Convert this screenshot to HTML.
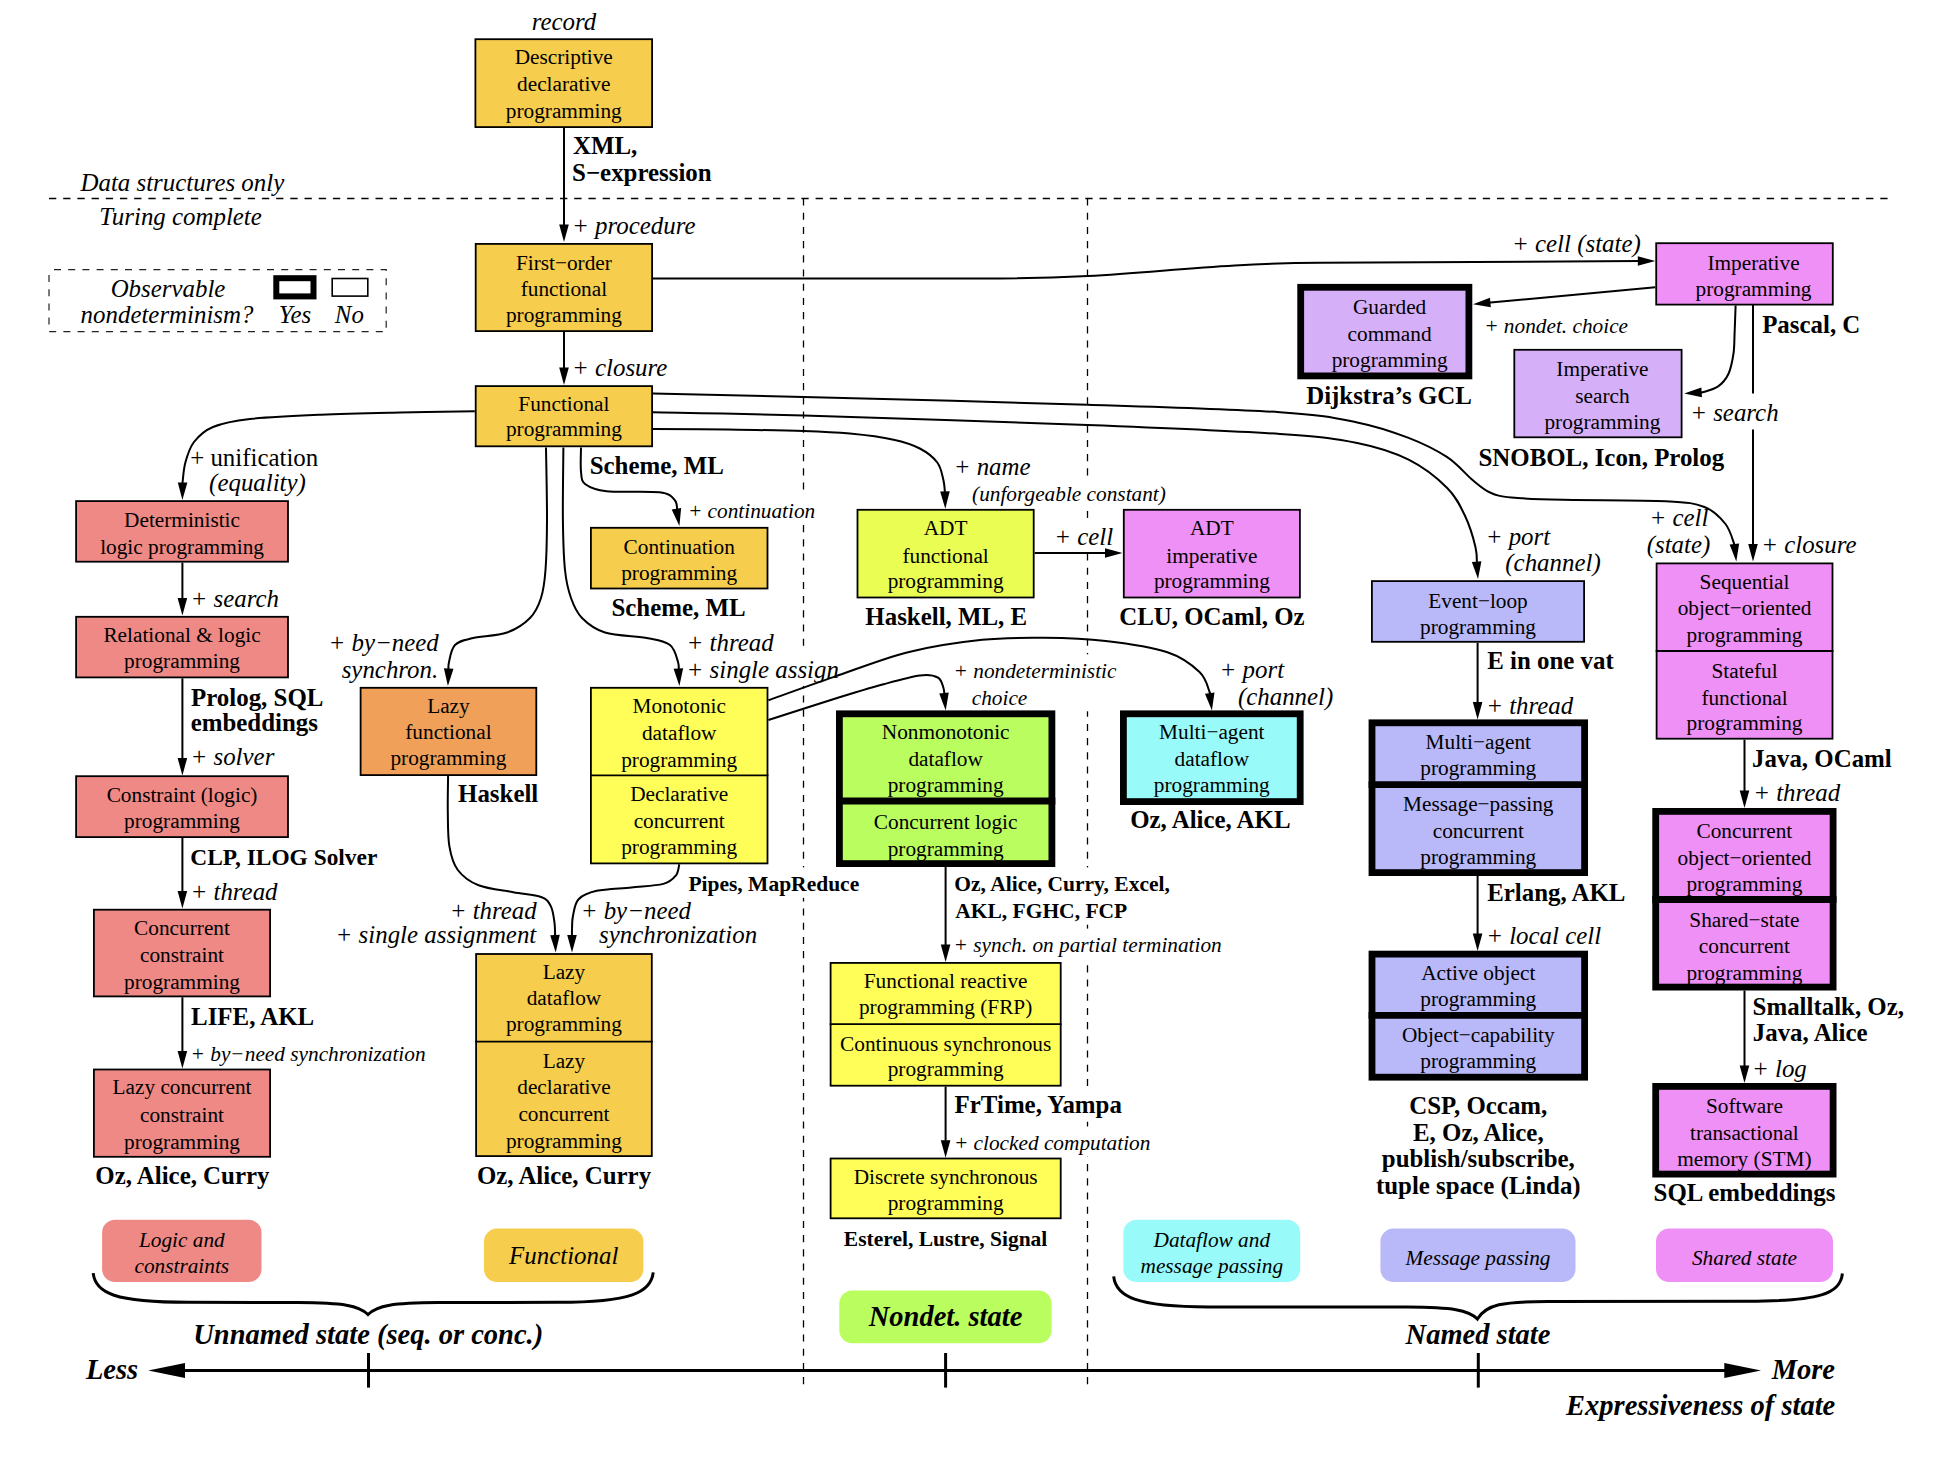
<!DOCTYPE html>
<html><head><meta charset="utf-8"><title>Programming paradigms</title>
<style>
html,body{margin:0;padding:0;background:#fff;}
body{width:1944px;height:1472px;overflow:hidden;}
svg{display:block;}
text{font-family:"Liberation Serif",serif;fill:#000;}
.bx{font-size:21.3px;}
.rg{font-size:24.9px;}
.it{font-size:24.9px;font-style:italic;}
.sm{font-size:21.3px;font-style:italic;}
.bd{font-size:24.9px;font-weight:bold;}
.bd2{font-size:23.4px;font-weight:bold;}
.bs{font-size:21.5px;font-weight:bold;}
.bi{font-size:28.5px;font-weight:bold;font-style:italic;}
</style></head><body>
<svg width="1944" height="1472" viewBox="0 0 1944 1472">
<rect x="0" y="0" width="1944" height="1472" fill="#fff"/>
<g stroke="#000" stroke-width="1.3" fill="none">
<line x1="49" y1="198.5" x2="1889" y2="198.5" stroke-dasharray="7.3,6.896"/>
<line x1="803.5" y1="198.5" x2="803.5" y2="1388" stroke-dasharray="7.1,7.1"/>
<line x1="1087.5" y1="198.5" x2="1087.5" y2="1388" stroke-dasharray="7.1,7.1"/>
</g>
<rect x="688.3" y="494.3" width="131.4" height="30.2" fill="#fff"/>
<rect x="970.8" y="477.4" width="197.8" height="30.2" fill="#fff"/>
<rect x="1055.0" y="517.9" width="63.0" height="35.4" fill="#fff"/>
<rect x="687.4" y="650.5" width="156.4" height="35.4" fill="#fff"/>
<rect x="954.0" y="654.3" width="166.9" height="30.2" fill="#fff"/>
<rect x="954.0" y="681.1" width="166.9" height="30.2" fill="#fff"/>
<rect x="686.8" y="867.4" width="174.8" height="30.5" fill="#fff"/>
<rect x="953.4" y="867.4" width="219.5" height="30.5" fill="#fff"/>
<rect x="953.4" y="894.2" width="176.0" height="30.5" fill="#fff"/>
<rect x="954.0" y="928.6" width="272.2" height="30.2" fill="#fff"/>
<rect x="953.0" y="1086.1" width="171.4" height="35.4" fill="#fff"/>
<rect x="954.3" y="1126.5" width="200.5" height="30.2" fill="#fff"/>
<rect x="49" y="269.6" width="337.2" height="62" fill="none" stroke="#222" stroke-width="1.2" stroke-dasharray="7,7.2" stroke-dashoffset="9.2"/>
<rect x="276.3" y="278.2" width="37.2" height="18.2" fill="#fff" stroke="#000" stroke-width="6"/>
<rect x="332.2" y="278.5" width="35.6" height="17.6" fill="#fff" stroke="#000" stroke-width="1.6"/>
<text x="168" y="296.7" class="it" text-anchor="middle">Observable</text>
<text x="80.61" y="322.6" class="it">nondeterminism?</text>
<text x="295" y="322.6" class="it" text-anchor="middle">Yes</text>
<text x="349.4" y="322.6" class="it" text-anchor="middle">No</text>
<text x="80.48" y="191.0" class="it">Data structures only</text>
<text x="99.37" y="225.0" class="it">Turing complete</text>
<path d="M564,128 L564,230" fill="none" stroke="#000" stroke-width="2.0"/>
<path d="M564.00,242.00 L559.20,224.50 L568.80,224.50 Z" fill="#000"/>
<path d="M564,332 L564,373" fill="none" stroke="#000" stroke-width="2.0"/>
<path d="M564.00,385.00 L559.20,367.50 L568.80,367.50 Z" fill="#000"/>
<path d="M653,278.4 L1000,278.4 C1130,278.4 1190,263.5 1320,262.8 L1640,261" fill="none" stroke="#000" stroke-width="2.0"/>
<path d="M1655.30,260.90 L1637.82,265.77 L1637.78,256.17 Z" fill="#000"/>
<path d="M1655.3,287.2 L1485,303" fill="none" stroke="#000" stroke-width="2.0"/>
<path d="M1473.00,304.20 L1489.98,297.80 L1490.87,307.35 Z" fill="#000"/>
<path d="M1735.60,305.50 C1735.43,310.07 1734.95,324.90 1734.60,332.90 C1734.25,340.90 1734.53,346.65 1733.50,353.50 C1732.47,360.35 1730.97,368.52 1728.40,374.00 C1725.83,379.48 1722.38,383.35 1718.10,386.40 C1713.82,389.45 1706.11,391.26 1702.70,392.30 C1699.29,393.34 1698.51,392.59 1697.67,392.65" fill="none" stroke="#000" stroke-width="2.0"/>
<path d="M1684.20,393.60 L1701.32,387.59 L1701.99,397.16 Z" fill="#000"/>
<path d="M1753,305 L1753,393.6" fill="none" stroke="#000" stroke-width="2.0"/>
<path d="M1753,429.6 L1753,549" fill="none" stroke="#000" stroke-width="2.0"/>
<path d="M1753.00,561.50 L1748.20,544.00 L1757.80,544.00 Z" fill="#000"/>
<path d="M474.80,411.20 C462.33,411.42 425.63,411.92 400.00,412.50 C374.37,413.08 346.00,413.62 321.00,414.70 C296.00,415.78 268.00,416.95 250.00,419.00 C232.00,421.05 222.33,423.17 213.00,427.00 C203.67,430.83 198.58,436.17 194.00,442.00 C189.42,447.83 187.40,455.33 185.50,462.00 C183.60,468.67 183.09,477.92 182.60,482.00 C182.11,486.08 182.56,485.75 182.55,486.50" fill="none" stroke="#000" stroke-width="2.0"/>
<path d="M182.40,500.00 L177.79,482.45 L187.39,482.55 Z" fill="#000"/>
<path d="M653.00,393.60 C678.12,394.15 731.28,395.05 803.70,396.90 C876.12,398.75 1008.12,402.15 1087.50,404.70 C1166.88,407.25 1235.05,409.25 1280.00,412.20 C1324.95,415.15 1335.77,418.12 1357.20,422.40 C1378.63,426.68 1393.60,432.10 1408.60,437.90 C1423.60,443.70 1436.48,450.13 1447.20,457.20 C1457.92,464.27 1465.77,474.42 1472.90,480.30 C1480.03,486.18 1483.57,489.63 1490.00,492.50 C1496.43,495.37 1499.35,496.28 1511.50,497.50 C1523.65,498.72 1537.18,499.18 1562.90,499.80 C1588.62,500.42 1642.22,500.00 1665.80,501.20 C1689.38,502.40 1694.45,503.20 1704.40,507.00 C1714.35,510.80 1720.48,517.67 1725.50,524.00 C1730.52,530.33 1732.94,540.99 1734.50,545.00 C1736.06,549.01 1734.78,547.57 1734.84,548.08" fill="none" stroke="#000" stroke-width="2.0"/>
<path d="M1736.30,561.50 L1729.63,544.62 L1739.17,543.58 Z" fill="#000"/>
<path d="M653.00,412.20 C678.12,412.75 731.28,413.37 803.70,415.50 C876.12,417.63 1008.12,421.92 1087.50,425.00 C1166.88,428.08 1235.05,431.00 1280.00,434.00 C1324.95,437.00 1335.77,438.72 1357.20,443.00 C1378.63,447.28 1393.60,452.20 1408.60,459.70 C1423.60,467.20 1437.77,478.57 1447.20,488.00 C1456.63,497.43 1460.48,506.43 1465.20,516.30 C1469.92,526.17 1473.54,538.99 1475.50,547.20 C1477.46,555.41 1476.70,562.48 1476.94,565.54" fill="none" stroke="#000" stroke-width="2.0"/>
<path d="M1478.00,579.00 L1471.84,561.93 L1481.41,561.18 Z" fill="#000"/>
<path d="M653.00,429.00 C665.40,429.10 702.32,429.27 727.40,429.60 C752.48,429.93 783.08,430.33 803.50,431.00 C823.92,431.67 834.88,432.15 849.90,433.60 C864.92,435.05 881.95,437.22 893.60,439.70 C905.25,442.18 912.52,444.70 919.80,448.50 C927.08,452.30 933.37,457.25 937.30,462.50 C941.23,467.75 942.12,474.75 943.40,480.00 C944.68,485.25 944.73,491.45 945.00,494.00 C945.27,496.55 945.02,495.09 945.03,495.30" fill="none" stroke="#000" stroke-width="2.0"/>
<path d="M945.30,508.80 L940.15,491.40 L949.74,491.21 Z" fill="#000"/>
<path d="M546.00,447.50 C546.17,459.58 547.08,499.58 547.00,520.00 C546.92,540.42 546.50,557.00 545.50,570.00 C544.50,583.00 543.58,590.00 541.00,598.00 C538.42,606.00 535.67,612.25 530.00,618.00 C524.33,623.75 516.67,629.12 507.00,632.50 C497.33,635.88 480.67,636.22 472.00,638.30 C463.33,640.38 458.83,641.05 455.00,645.00 C451.17,648.95 450.08,657.41 449.00,662.00 C447.92,666.59 448.60,670.76 448.52,672.51" fill="none" stroke="#000" stroke-width="2.0"/>
<path d="M447.90,686.00 L443.91,668.30 L453.50,668.74 Z" fill="#000"/>
<path d="M563.40,447.50 C563.32,459.58 562.63,499.58 562.90,520.00 C563.17,540.42 563.65,557.00 565.00,570.00 C566.35,583.00 568.17,590.00 571.00,598.00 C573.83,606.00 576.33,612.25 582.00,618.00 C587.67,623.75 594.00,629.12 605.00,632.50 C616.00,635.88 637.17,636.22 648.00,638.30 C658.83,640.38 665.00,641.05 670.00,645.00 C675.00,648.95 676.56,657.41 678.00,662.00 C679.44,666.59 678.51,670.77 678.61,672.52" fill="none" stroke="#000" stroke-width="2.0"/>
<path d="M679.40,686.00 L673.59,668.81 L683.17,668.25 Z" fill="#000"/>
<path d="M581.00,447.50 C581.00,451.55 580.27,465.68 581.00,471.80 C581.73,477.92 581.13,480.97 585.40,484.20 C589.67,487.43 594.23,489.85 606.60,491.20 C618.97,492.55 648.20,490.75 659.60,492.30 C671.00,493.85 672.08,497.10 675.00,500.50 C677.92,503.90 676.75,510.66 677.10,512.70" fill="none" stroke="#000" stroke-width="2.0"/>
<path d="M679.40,526.00 L671.69,509.57 L681.15,507.94 Z" fill="#000"/>
<path d="M182.4,562.6 L182.4,603.5" fill="none" stroke="#000" stroke-width="2.0"/>
<path d="M182.40,615.50 L177.60,598.00 L187.20,598.00 Z" fill="#000"/>
<path d="M182.4,678.3 L182.4,763.5" fill="none" stroke="#000" stroke-width="2.0"/>
<path d="M182.40,775.50 L177.60,758.00 L187.20,758.00 Z" fill="#000"/>
<path d="M182.4,838 L182.4,896.5" fill="none" stroke="#000" stroke-width="2.0"/>
<path d="M182.40,908.50 L177.60,891.00 L187.20,891.00 Z" fill="#000"/>
<path d="M182.4,997.3 L182.4,1056.5" fill="none" stroke="#000" stroke-width="2.0"/>
<path d="M182.40,1068.50 L177.60,1051.00 L187.20,1051.00 Z" fill="#000"/>
<path d="M1034.6,553 L1110,553" fill="none" stroke="#000" stroke-width="2.0"/>
<path d="M1122.50,553.00 L1105.00,557.80 L1105.00,548.20 Z" fill="#000"/>
<path d="M768.40,720.00 C779.33,716.50 814.82,704.95 834.00,699.00 C853.18,693.05 869.17,688.22 883.50,684.30 C897.83,680.38 910.95,676.63 920.00,675.50 C929.05,674.37 933.88,675.42 937.80,677.50 C941.72,679.58 942.40,684.74 943.50,688.00 C944.60,691.26 944.24,695.55 944.39,697.06" fill="none" stroke="#000" stroke-width="2.0"/>
<path d="M945.70,710.50 L939.22,693.55 L948.77,692.62 Z" fill="#000"/>
<path d="M768.40,700.30 C779.33,696.40 810.73,684.92 834.00,676.90 C857.27,668.88 883.30,658.38 908.00,652.20 C932.70,646.02 959.53,642.20 982.20,639.80 C1004.87,637.40 1023.42,637.60 1044.00,637.80 C1064.58,638.00 1085.13,638.60 1105.70,641.00 C1126.27,643.40 1151.77,647.05 1167.40,652.20 C1183.03,657.35 1192.47,665.27 1199.50,671.90 C1206.53,678.53 1207.81,687.80 1209.60,692.00 C1211.39,696.20 1210.13,696.25 1210.23,697.10" fill="none" stroke="#000" stroke-width="2.0"/>
<path d="M1211.90,710.50 L1204.98,693.73 L1214.50,692.54 Z" fill="#000"/>
<path d="M945.6,867 L945.6,950" fill="none" stroke="#000" stroke-width="2.0"/>
<path d="M945.60,962.00 L940.80,944.50 L950.40,944.50 Z" fill="#000"/>
<path d="M945.6,1086.6 L945.6,1145.8" fill="none" stroke="#000" stroke-width="2.0"/>
<path d="M945.60,1157.80 L940.80,1140.30 L950.40,1140.30 Z" fill="#000"/>
<path d="M448.10,775.60 C448.05,781.62 447.58,799.90 447.80,811.70 C448.02,823.50 447.73,836.68 449.40,846.40 C451.07,856.12 452.93,863.52 457.80,870.00 C462.67,876.48 469.35,881.60 478.60,885.30 C487.85,889.00 502.88,890.25 513.30,892.20 C523.72,894.15 534.85,894.68 541.10,897.00 C547.35,899.32 548.57,901.80 550.80,906.10 C553.03,910.40 553.77,917.31 554.50,922.80 C555.23,928.29 555.05,936.31 555.15,939.01" fill="none" stroke="#000" stroke-width="2.0"/>
<path d="M555.70,952.50 L550.20,935.21 L559.79,934.82 Z" fill="#000"/>
<path d="M679.30,864.30 C678.72,866.18 678.47,872.33 675.80,875.60 C673.13,878.87 670.70,881.93 663.30,883.90 C655.90,885.87 642.50,886.25 631.40,887.40 C620.30,888.55 605.50,888.83 596.70,890.80 C587.90,892.77 582.55,895.03 578.60,899.20 C574.65,903.37 574.10,910.67 573.00,915.80 C571.90,920.93 572.17,926.13 572.00,930.00 C571.83,933.87 572.00,937.50 572.00,939.00" fill="none" stroke="#000" stroke-width="2.0"/>
<path d="M572.00,952.50 L567.20,935.00 L576.80,935.00 Z" fill="#000"/>
<path d="M1477.6,642.7 L1477.6,707.5" fill="none" stroke="#000" stroke-width="2.0"/>
<path d="M1477.60,719.50 L1472.80,702.00 L1482.40,702.00 Z" fill="#000"/>
<path d="M1477.6,876 L1477.6,939" fill="none" stroke="#000" stroke-width="2.0"/>
<path d="M1477.60,951.00 L1472.80,933.50 L1482.40,933.50 Z" fill="#000"/>
<path d="M1744.5,739.6 L1744.5,796" fill="none" stroke="#000" stroke-width="2.0"/>
<path d="M1744.50,808.00 L1739.70,790.50 L1749.30,790.50 Z" fill="#000"/>
<path d="M1744.5,990.5 L1744.5,1071" fill="none" stroke="#000" stroke-width="2.0"/>
<path d="M1744.50,1083.00 L1739.70,1065.50 L1749.30,1065.50 Z" fill="#000"/>
<rect x="475.40" y="39.20" width="176.70" height="87.90" fill="#f6cd4c" stroke="#000" stroke-width="1.8"/>
<text x="563.75" y="64.4" class="bx" text-anchor="middle">Descriptive</text>
<text x="563.75" y="91.3" class="bx" text-anchor="middle">declarative</text>
<text x="563.75" y="117.7" class="bx" text-anchor="middle">programming</text>
<rect x="475.70" y="243.90" width="176.40" height="87.20" fill="#f6cd4c" stroke="#000" stroke-width="1.8"/>
<text x="563.90" y="269.6" class="bx" text-anchor="middle">First−order</text>
<text x="563.90" y="295.6" class="bx" text-anchor="middle">functional</text>
<text x="563.90" y="321.7" class="bx" text-anchor="middle">programming</text>
<rect x="475.70" y="386.10" width="176.40" height="60.20" fill="#f6cd4c" stroke="#000" stroke-width="1.8"/>
<text x="563.90" y="410.9" class="bx" text-anchor="middle">Functional</text>
<text x="563.90" y="435.9" class="bx" text-anchor="middle">programming</text>
<rect x="76.10" y="501.10" width="211.90" height="60.60" fill="#ee8985" stroke="#000" stroke-width="1.8"/>
<text x="182.05" y="526.7" class="bx" text-anchor="middle">Deterministic</text>
<text x="182.05" y="553.9" class="bx" text-anchor="middle">logic programming</text>
<rect x="76.10" y="616.80" width="211.90" height="60.60" fill="#ee8985" stroke="#000" stroke-width="1.8"/>
<text x="182.05" y="642" class="bx" text-anchor="middle">Relational &amp; logic</text>
<text x="182.05" y="668" class="bx" text-anchor="middle">programming</text>
<rect x="76.10" y="776.20" width="211.90" height="60.90" fill="#ee8985" stroke="#000" stroke-width="1.8"/>
<text x="182.05" y="801.6" class="bx" text-anchor="middle">Constraint (logic)</text>
<text x="182.05" y="828.4" class="bx" text-anchor="middle">programming</text>
<rect x="93.90" y="909.70" width="176.20" height="86.70" fill="#ee8985" stroke="#000" stroke-width="1.8"/>
<text x="182.00" y="935" class="bx" text-anchor="middle">Concurrent</text>
<text x="182.00" y="962.3" class="bx" text-anchor="middle">constraint</text>
<text x="182.00" y="989" class="bx" text-anchor="middle">programming</text>
<rect x="93.90" y="1069.50" width="176.20" height="87.30" fill="#ee8985" stroke="#000" stroke-width="1.8"/>
<text x="182.00" y="1094.3" class="bx" text-anchor="middle">Lazy concurrent</text>
<text x="182.00" y="1121.5" class="bx" text-anchor="middle">constraint</text>
<text x="182.00" y="1149" class="bx" text-anchor="middle">programming</text>
<rect x="360.60" y="687.80" width="175.70" height="87.30" fill="#f0a058" stroke="#000" stroke-width="1.8"/>
<text x="448.45" y="712.6" class="bx" text-anchor="middle">Lazy</text>
<text x="448.45" y="738.7" class="bx" text-anchor="middle">functional</text>
<text x="448.45" y="764.8" class="bx" text-anchor="middle">programming</text>
<rect x="590.90" y="527.80" width="176.60" height="60.70" fill="#f6cd4c" stroke="#000" stroke-width="1.8"/>
<text x="679.20" y="554" class="bx" text-anchor="middle">Continuation</text>
<text x="679.20" y="579.7" class="bx" text-anchor="middle">programming</text>
<rect x="590.90" y="687.80" width="176.60" height="175.60" fill="#fffe58" stroke="#000" stroke-width="1.8"/>
<line x1="590" y1="775.3" x2="768.4" y2="775.3" stroke="#000" stroke-width="1.8"/>
<text x="679.20" y="713.4" class="bx" text-anchor="middle">Monotonic</text>
<text x="679.20" y="740" class="bx" text-anchor="middle">dataflow</text>
<text x="679.20" y="766.6" class="bx" text-anchor="middle">programming</text>
<text x="679.20" y="801" class="bx" text-anchor="middle">Declarative</text>
<text x="679.20" y="827.5" class="bx" text-anchor="middle">concurrent</text>
<text x="679.20" y="854" class="bx" text-anchor="middle">programming</text>
<rect x="476.10" y="954.00" width="175.70" height="202.10" fill="#f6cd4c" stroke="#000" stroke-width="1.8"/>
<line x1="475.2" y1="1041.6" x2="652.7" y2="1041.6" stroke="#000" stroke-width="1.8"/>
<text x="563.95" y="978.8" class="bx" text-anchor="middle">Lazy</text>
<text x="563.95" y="1005" class="bx" text-anchor="middle">dataflow</text>
<text x="563.95" y="1031.4" class="bx" text-anchor="middle">programming</text>
<text x="563.95" y="1067.9" class="bx" text-anchor="middle">Lazy</text>
<text x="563.95" y="1094.2" class="bx" text-anchor="middle">declarative</text>
<text x="563.95" y="1120.5" class="bx" text-anchor="middle">concurrent</text>
<text x="563.95" y="1148.2" class="bx" text-anchor="middle">programming</text>
<rect x="857.50" y="509.80" width="176.20" height="87.70" fill="#eafd52" stroke="#000" stroke-width="1.8"/>
<text x="945.60" y="535.4" class="bx" text-anchor="middle">ADT</text>
<text x="945.60" y="562.6" class="bx" text-anchor="middle">functional</text>
<text x="945.60" y="588" class="bx" text-anchor="middle">programming</text>
<rect x="1123.80" y="509.80" width="176.10" height="87.70" fill="#ee90f5" stroke="#000" stroke-width="1.8"/>
<text x="1211.85" y="535.4" class="bx" text-anchor="middle">ADT</text>
<text x="1211.85" y="562.6" class="bx" text-anchor="middle">imperative</text>
<text x="1211.85" y="588" class="bx" text-anchor="middle">programming</text>
<rect x="839.40" y="713.80" width="212.50" height="149.80" fill="#b9fd5e" stroke="#000" stroke-width="6.8"/>
<line x1="836" y1="801" x2="1055.3" y2="801" stroke="#000" stroke-width="6.8"/>
<text x="945.65" y="739.3" class="bx" text-anchor="middle">Nonmonotonic</text>
<text x="945.65" y="766.2" class="bx" text-anchor="middle">dataflow</text>
<text x="945.65" y="792" class="bx" text-anchor="middle">programming</text>
<text x="945.65" y="828.8" class="bx" text-anchor="middle">Concurrent logic</text>
<text x="945.65" y="855.7" class="bx" text-anchor="middle">programming</text>
<rect x="1123.40" y="713.80" width="176.80" height="87.80" fill="#99fbf9" stroke="#000" stroke-width="6.8"/>
<text x="1211.80" y="739.3" class="bx" text-anchor="middle">Multi−agent</text>
<text x="1211.80" y="766.2" class="bx" text-anchor="middle">dataflow</text>
<text x="1211.80" y="792" class="bx" text-anchor="middle">programming</text>
<rect x="830.60" y="962.90" width="230.10" height="122.80" fill="#fffe58" stroke="#000" stroke-width="1.8"/>
<line x1="829.7" y1="1024.2" x2="1061.6" y2="1024.2" stroke="#000" stroke-width="1.8"/>
<text x="945.65" y="988" class="bx" text-anchor="middle">Functional reactive</text>
<text x="945.65" y="1014" class="bx" text-anchor="middle">programming (FRP)</text>
<text x="945.65" y="1050.7" class="bx" text-anchor="middle">Continuous synchronous</text>
<text x="945.65" y="1075.5" class="bx" text-anchor="middle">programming</text>
<rect x="830.60" y="1158.50" width="230.10" height="59.80" fill="#fffe58" stroke="#000" stroke-width="1.8"/>
<text x="945.65" y="1184" class="bx" text-anchor="middle">Discrete synchronous</text>
<text x="945.65" y="1210.4" class="bx" text-anchor="middle">programming</text>
<rect x="1656.20" y="243.20" width="176.60" height="61.40" fill="#ee90f5" stroke="#000" stroke-width="1.8"/>
<text x="1753.50" y="270" class="bx" text-anchor="middle">Imperative</text>
<text x="1753.50" y="295.6" class="bx" text-anchor="middle">programming</text>
<rect x="1300.70" y="287.30" width="168.20" height="88.60" fill="#d6aff9" stroke="#000" stroke-width="6.8"/>
<text x="1389.60" y="314.4" class="bx" text-anchor="middle">Guarded</text>
<text x="1389.60" y="340.7" class="bx" text-anchor="middle">command</text>
<text x="1389.60" y="367.3" class="bx" text-anchor="middle">programming</text>
<rect x="1514.30" y="349.80" width="167.30" height="87.50" fill="#d6aff9" stroke="#000" stroke-width="1.8"/>
<text x="1602.45" y="375.9" class="bx" text-anchor="middle">Imperative</text>
<text x="1602.45" y="403.2" class="bx" text-anchor="middle">search</text>
<text x="1602.45" y="428.8" class="bx" text-anchor="middle">programming</text>
<rect x="1371.90" y="581.10" width="212.20" height="60.70" fill="#b9b8f8" stroke="#000" stroke-width="1.8"/>
<text x="1478.00" y="607.6" class="bx" text-anchor="middle">Event−loop</text>
<text x="1478.00" y="634" class="bx" text-anchor="middle">programming</text>
<rect x="1372.00" y="722.80" width="212.60" height="149.80" fill="#b9b8f8" stroke="#000" stroke-width="6.8"/>
<line x1="1368.6" y1="784.7" x2="1588" y2="784.7" stroke="#000" stroke-width="6.8"/>
<text x="1478.30" y="749" class="bx" text-anchor="middle">Multi−agent</text>
<text x="1478.30" y="775.4" class="bx" text-anchor="middle">programming</text>
<text x="1478.30" y="811" class="bx" text-anchor="middle">Message−passing</text>
<text x="1478.30" y="837.5" class="bx" text-anchor="middle">concurrent</text>
<text x="1478.30" y="864" class="bx" text-anchor="middle">programming</text>
<rect x="1372.00" y="954.10" width="212.60" height="123.10" fill="#b9b8f8" stroke="#000" stroke-width="6.8"/>
<line x1="1368.6" y1="1015.3" x2="1588" y2="1015.3" stroke="#000" stroke-width="6.8"/>
<text x="1478.30" y="979.6" class="bx" text-anchor="middle">Active object</text>
<text x="1478.30" y="1006" class="bx" text-anchor="middle">programming</text>
<text x="1478.30" y="1041.8" class="bx" text-anchor="middle">Object−capability</text>
<text x="1478.30" y="1068.2" class="bx" text-anchor="middle">programming</text>
<rect x="1656.60" y="563.40" width="175.90" height="175.30" fill="#ee90f5" stroke="#000" stroke-width="1.8"/>
<line x1="1655.7" y1="651" x2="1833.4" y2="651" stroke="#000" stroke-width="1.8"/>
<text x="1744.55" y="589" class="bx" text-anchor="middle">Sequential</text>
<text x="1744.55" y="615.4" class="bx" text-anchor="middle">object−oriented</text>
<text x="1744.55" y="641.8" class="bx" text-anchor="middle">programming</text>
<text x="1744.55" y="677.5" class="bx" text-anchor="middle">Stateful</text>
<text x="1744.55" y="704.5" class="bx" text-anchor="middle">functional</text>
<text x="1744.55" y="730.3" class="bx" text-anchor="middle">programming</text>
<rect x="1655.70" y="811.40" width="177.40" height="175.70" fill="#ee90f5" stroke="#000" stroke-width="6.8"/>
<line x1="1652.3" y1="899.5" x2="1836.5" y2="899.5" stroke="#000" stroke-width="6.8"/>
<text x="1744.40" y="838" class="bx" text-anchor="middle">Concurrent</text>
<text x="1744.40" y="864.5" class="bx" text-anchor="middle">object−oriented</text>
<text x="1744.40" y="891" class="bx" text-anchor="middle">programming</text>
<text x="1744.40" y="926.8" class="bx" text-anchor="middle">Shared−state</text>
<text x="1744.40" y="953.2" class="bx" text-anchor="middle">concurrent</text>
<text x="1744.40" y="979.6" class="bx" text-anchor="middle">programming</text>
<rect x="1655.70" y="1086.40" width="177.40" height="87.70" fill="#ee90f5" stroke="#000" stroke-width="6.8"/>
<text x="1744.40" y="1113.2" class="bx" text-anchor="middle">Software</text>
<text x="1744.40" y="1139.6" class="bx" text-anchor="middle">transactional</text>
<text x="1744.40" y="1166" class="bx" text-anchor="middle">memory (STM)</text>
<text x="564" y="30.3" class="it" text-anchor="middle">record</text>
<text x="572.94" y="154.3" class="bd">XML,</text>
<text x="572.07" y="181.2" class="bd">S−expression</text>
<text x="571.97" y="233.6" class="it">+ procedure</text>
<text x="571.97" y="376.0" class="it">+ closure</text>
<text x="1640.77" y="252.2" class="it" text-anchor="end">+ cell (state)</text>
<text x="1484.18" y="332.5" class="sm">+ nondet. choice</text>
<text x="1762.17" y="332.5" class="bd">Pascal, C</text>
<text x="1306.16" y="404.2" class="bd">Dijkstra’s GCL</text>
<text x="1690.17" y="421.3" class="it">+ search</text>
<text x="1478.47" y="465.7" class="bd">SNOBOL, Icon, Prolog</text>
<text x="190.16" y="465.8" class="rg">+ unification</text>
<text x="209.12" y="490.5" class="it">(equality)</text>
<text x="589.67" y="473.8" class="bd">Scheme, ML</text>
<text x="687.88" y="517.7" class="sm">+ continuation</text>
<text x="611.47" y="616.0" class="bd">Scheme, ML</text>
<text x="953.67" y="474.6" class="it">+ name</text>
<text x="972.05" y="500.8" class="sm">(unforgeable constant)</text>
<text x="1054.17" y="545.0" class="it">+ cell</text>
<text x="865.37" y="624.7" class="bd">Haskell, ML, E</text>
<text x="1119.28" y="624.7" class="bd">CLU, OCaml, Oz</text>
<text x="1485.67" y="544.9" class="it">+ port</text>
<text x="1505.32" y="571.3" class="it">(channel)</text>
<text x="1649.47" y="526.2" class="it">+ cell</text>
<text x="1646.72" y="552.7" class="it">(state)</text>
<text x="1761.17" y="552.7" class="it">+ closure</text>
<text x="190.47" y="607.0" class="it">+ search</text>
<text x="191.07" y="706.0" class="bd">Prolog, SQL</text>
<text x="190.65" y="731.0" class="bd">embeddings</text>
<text x="190.47" y="764.7" class="it">+ solver</text>
<text x="328.47" y="650.6" class="it">+ by−need</text>
<text x="341.7" y="677.7" class="it">synchron.</text>
<text x="686.57" y="651.0" class="it">+ thread</text>
<text x="686.57" y="677.6" class="it">+ single assign</text>
<text x="953.58" y="677.7" class="sm">+ nondeterministic</text>
<text x="971.74" y="704.5" class="sm">choice</text>
<text x="1219.57" y="677.7" class="it">+ port</text>
<text x="1237.92" y="704.5" class="it">(channel)</text>
<text x="1487.17" y="669.2" class="bd">E in one vat</text>
<text x="1486.17" y="714.2" class="it">+ thread</text>
<text x="1752.09" y="767.0" class="bd">Java, OCaml</text>
<text x="1753.17" y="801.2" class="it">+ thread</text>
<text x="458.07" y="802.0" class="bd">Haskell</text>
<text x="1130.18" y="828.3" class="bd">Oz, Alice, AKL</text>
<text x="190.36" y="865.0" class="bd2">CLP, ILOG Solver</text>
<text x="190.47" y="900.4" class="it">+ thread</text>
<text x="688.38" y="891.0" class="bs">Pipes, MapReduce</text>
<text x="954.35" y="891.0" class="bs">Oz, Alice, Curry, Excel,</text>
<text x="955.19" y="917.8" class="bs">AKL, FGHC, FCP</text>
<text x="1487.17" y="900.8" class="bd">Erlang, AKL</text>
<text x="536.74" y="918.5" class="it" text-anchor="end">+ thread</text>
<text x="536.3" y="943.3" class="it" text-anchor="end">+ single assignment</text>
<text x="580.67" y="918.5" class="it">+ by−need</text>
<text x="599.0" y="943.3" class="it">synchronization</text>
<text x="953.58" y="952.0" class="sm">+ synch. on partial termination</text>
<text x="1486.17" y="944.3" class="it">+ local cell</text>
<text x="1752.57" y="1014.8" class="bd">Smalltalk, Oz,</text>
<text x="1752.79" y="1041.2" class="bd">Java, Alice</text>
<text x="191.07" y="1025.2" class="bd">LIFE, AKL</text>
<text x="190.58" y="1061.0" class="sm">+ by−need synchronization</text>
<text x="1751.97" y="1077.0" class="it">+ log</text>
<text x="954.57" y="1113.2" class="bd">FrTime, Yampa</text>
<text x="1478.3" y="1114.2" class="bd" text-anchor="middle">CSP, Occam,</text>
<text x="1478.3" y="1140.6" class="bd" text-anchor="middle">E, Oz, Alice,</text>
<text x="1478.3" y="1167.0" class="bd" text-anchor="middle">publish/subscribe,</text>
<text x="1478.3" y="1193.5" class="bd" text-anchor="middle">tuple space (Linda)</text>
<text x="953.88" y="1149.9" class="sm">+ clocked computation</text>
<text x="182.4" y="1183.6" class="bd" text-anchor="middle">Oz, Alice, Curry</text>
<text x="564" y="1184.3" class="bd" text-anchor="middle">Oz, Alice, Curry</text>
<text x="1744.5" y="1201.2" class="bd" text-anchor="middle">SQL embeddings</text>
<text x="945.6" y="1246.4" class="bs" text-anchor="middle">Esterel, Lustre, Signal</text>
<rect x="102.1" y="1219.75" width="159.4" height="62.34999999999991" rx="13" ry="13" fill="#ee8985"/>
<text x="181.8" y="1247.0" class="sm" text-anchor="middle">Logic and</text>
<text x="181.8" y="1273.4" class="sm" text-anchor="middle">constraints</text>
<rect x="484" y="1228.6" width="159.39999999999998" height="53.5" rx="13" ry="13" fill="#f6cd4c"/>
<text x="563.7" y="1264.2" class="it" text-anchor="middle">Functional</text>
<rect x="839.3" y="1290.5" width="212.29999999999995" height="52.700000000000045" rx="13" ry="13" fill="#b9fd5e"/>
<text x="945.5" y="1326.0" class="bi" text-anchor="middle">Nondet. state</text>
<rect x="1123.4" y="1219.75" width="176.79999999999995" height="62.34999999999991" rx="13" ry="13" fill="#99fbf9"/>
<text x="1211.8" y="1247.0" class="sm" text-anchor="middle">Dataflow and</text>
<text x="1211.8" y="1273.4" class="sm" text-anchor="middle">message passing</text>
<rect x="1380.4" y="1228.6" width="195.0999999999999" height="53.5" rx="13" ry="13" fill="#b9b8f8"/>
<text x="1478" y="1264.7" class="sm" text-anchor="middle">Message passing</text>
<rect x="1656" y="1228.6" width="177" height="53.5" rx="13" ry="13" fill="#ee90f5"/>
<text x="1744.5" y="1264.7" class="sm" text-anchor="middle">Shared state</text>
<path d="M93.2,1273.2 C95.2,1293.2 115.2,1302.3 188.2,1302.3 L298,1302.5 C343,1302.8 359,1305.3 368,1314.5 C377,1305.3 393,1302.8 438,1302.5 L558.2,1302.3 C631.2,1302.3 651.2,1292.4 653.2,1272.4" fill="none" stroke="#000" stroke-width="3.0"/>
<path d="M1113.7,1276.4 C1115.7,1296.4 1135.7,1306.9 1208.7,1306.9 L1407.4,1307.1000000000001 C1452.4,1307.4 1468.4,1309.9 1477.4,1319 C1486.4,1304.2 1502.4,1301.7 1547.4,1301.4 L1747.4,1301.2 C1820.4,1301.2 1840.4,1293.5 1842.4,1273.5" fill="none" stroke="#000" stroke-width="3.0"/>
<text x="193.28" y="1344.2" class="bi">Unnamed state (seq. or conc.)</text>
<text x="1478" y="1344.0" class="bi" text-anchor="middle">Named state</text>
<line x1="170" y1="1370.5" x2="1740" y2="1370.5" stroke="#000" stroke-width="3"/>
<path d="M148.2,1370.5 L185,1363 L185,1378 Z" fill="#000"/>
<path d="M1761,1370.5 L1724.3,1363 L1724.3,1378 Z" fill="#000"/>
<line x1="368.5" y1="1353" x2="368.5" y2="1387.6" stroke="#000" stroke-width="3"/>
<line x1="945.6" y1="1353" x2="945.6" y2="1387.6" stroke="#000" stroke-width="3"/>
<line x1="1478.3" y1="1353" x2="1478.3" y2="1387.6" stroke="#000" stroke-width="3"/>
<text x="85.91" y="1378.8" class="bi">Less</text>
<text x="1771.68" y="1378.7" class="bi">More</text>
<text x="1835.23" y="1414.8" class="bi" text-anchor="end">Expressiveness of state</text>
</svg>
</body></html>
